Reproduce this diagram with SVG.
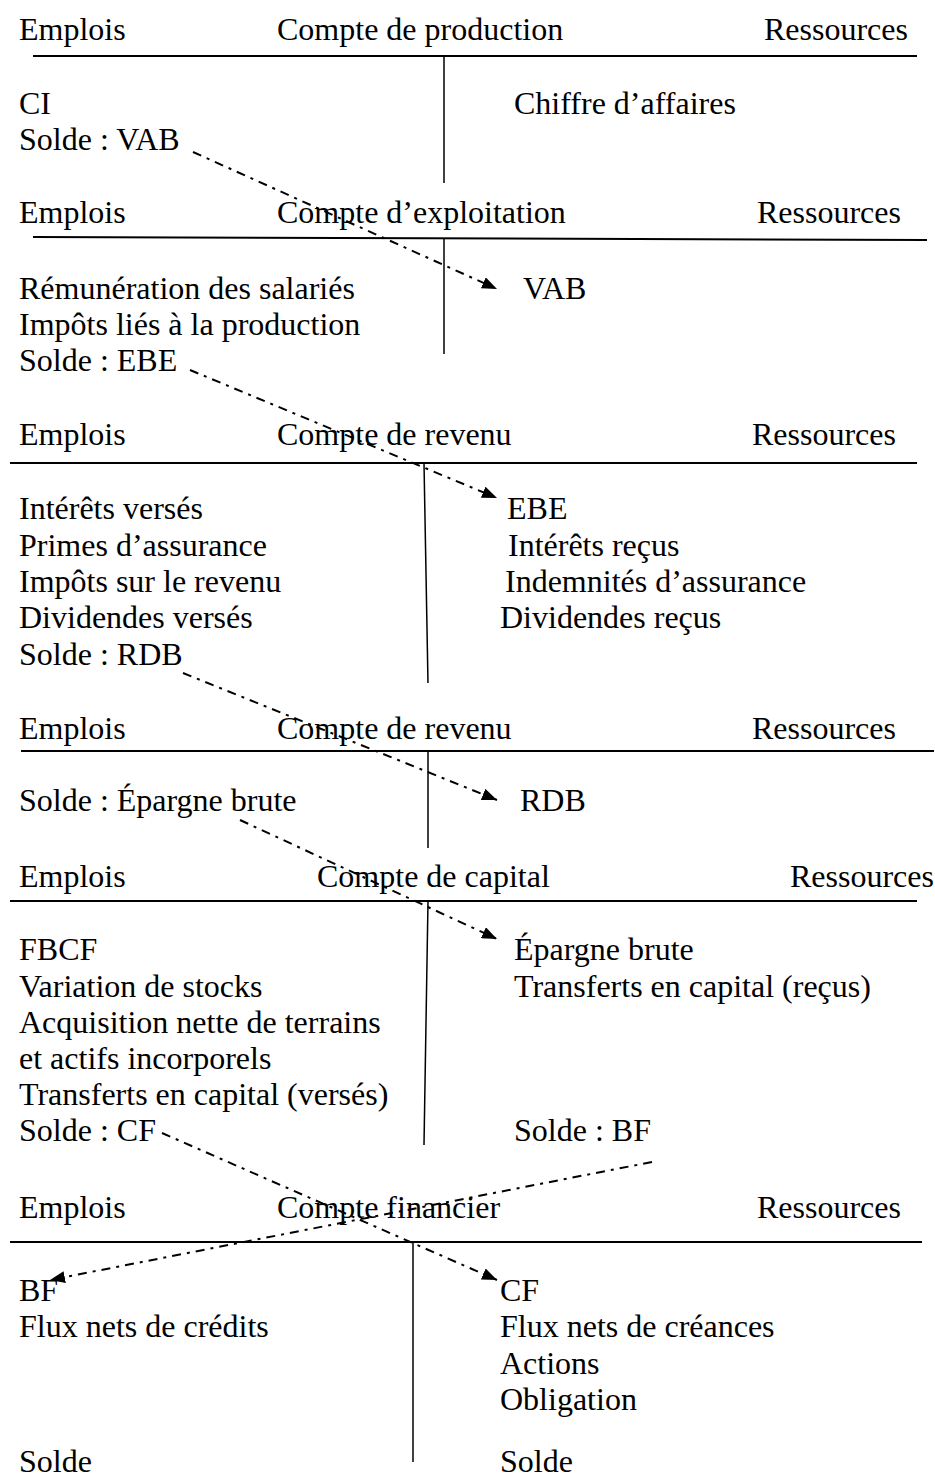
<svg xmlns="http://www.w3.org/2000/svg" width="935" height="1479" viewBox="0 0 935 1479">
<style>
text{font-family:"Liberation Serif","Times New Roman",serif;font-size:32px;fill:#000}
.rule{stroke:#000;stroke-width:2;fill:none}
.vl{stroke:#000;stroke-width:1.5;fill:none}
.flow{stroke:#000;stroke-width:2;fill:none;stroke-dasharray:9 6 3 6;marker-end:url(#ah)}
</style>
<defs>
<marker id="ah" markerUnits="userSpaceOnUse" markerWidth="16" markerHeight="12" refX="15" refY="6" orient="auto">
<path d="M0,0 L15,6 L0,12 z" fill="#000"/>
</marker>
</defs>
<rect width="935" height="1479" fill="#fff"/>
<g id="compte-production">
<text x="19" y="40">Emplois</text>
<text x="277" y="40">Compte de production</text>
<text x="764" y="40">Ressources</text>
<line class="rule" x1="33" y1="56" x2="917" y2="56"/>
<line class="vl" x1="444" y1="56" x2="444" y2="183"/>
<text x="19" y="114">CI</text>
<text x="19" y="150">Solde : VAB</text>
<text x="514" y="114">Chiffre d’affaires</text>
</g>
<g id="compte-exploitation">
<text x="19" y="223">Emplois</text>
<text x="277" y="223">Compte d’exploitation</text>
<text x="757" y="223">Ressources</text>
<line class="rule" x1="33" y1="237" x2="927" y2="240"/>
<line class="vl" x1="444" y1="238" x2="444" y2="354"/>
<text x="19" y="299">Rémunération des salariés</text>
<text x="19" y="335">Impôts liés à la production</text>
<text x="19" y="371">Solde : EBE</text>
<text x="523" y="299">VAB</text>
</g>
<g id="compte-revenu-1">
<text x="19" y="445">Emplois</text>
<text x="277" y="445">Compte de revenu</text>
<text x="752" y="445">Ressources</text>
<line class="rule" x1="10" y1="463" x2="917" y2="463"/>
<line class="vl" x1="424" y1="463" x2="428" y2="683"/>
<text x="19" y="519">Intérêts versés</text>
<text x="19" y="556">Primes d’assurance</text>
<text x="19" y="592">Impôts sur le revenu</text>
<text x="19" y="628">Dividendes versés</text>
<text x="19" y="665">Solde : RDB</text>
<text x="507" y="519">EBE</text>
<text x="508" y="556">Intérêts reçus</text>
<text x="505" y="592">Indemnités d’assurance</text>
<text x="500" y="628">Dividendes reçus</text>
</g>
<g id="compte-revenu-2">
<text x="19" y="739">Emplois</text>
<text x="277" y="739">Compte de revenu</text>
<text x="752" y="739">Ressources</text>
<line class="rule" x1="21" y1="751" x2="934" y2="751"/>
<line class="vl" x1="428" y1="751" x2="428" y2="848"/>
<text x="19" y="811">Solde : Épargne brute</text>
<text x="520" y="811">RDB</text>
</g>
<g id="compte-capital">
<text x="19" y="887">Emplois</text>
<text x="317" y="887">Compte de capital</text>
<text x="790" y="887">Ressources</text>
<line class="rule" x1="10" y1="901" x2="917" y2="901"/>
<line class="vl" x1="428" y1="901" x2="424" y2="1145"/>
<text x="19" y="960">FBCF</text>
<text x="19" y="997">Variation de stocks</text>
<text x="19" y="1033">Acquisition nette de terrains</text>
<text x="19" y="1069">et actifs incorporels</text>
<text x="19" y="1105">Transferts en capital (versés)</text>
<text x="19" y="1141">Solde : CF</text>
<text x="514" y="960">Épargne brute</text>
<text x="514" y="997">Transferts en capital (reçus)</text>
<text x="514" y="1141">Solde : BF</text>
</g>
<g id="compte-financier">
<text x="19" y="1218">Emplois</text>
<text x="277" y="1218">Compte financier</text>
<text x="757" y="1218">Ressources</text>
<line class="rule" x1="10" y1="1242" x2="922" y2="1242"/>
<line class="vl" x1="413" y1="1242" x2="413" y2="1462"/>
<text x="19" y="1301">BF</text>
<text x="19" y="1337">Flux nets de crédits</text>
<text x="19" y="1472">Solde</text>
<text x="500" y="1301">CF</text>
<text x="500" y="1337">Flux nets de créances</text>
<text x="500" y="1374">Actions</text>
<text x="500" y="1410">Obligation</text>
<text x="500" y="1472">Solde</text>
</g>
<g id="connectors">
<line class="flow" x1="193" y1="152" x2="497" y2="289"/>
<line class="flow" x1="190" y1="370" x2="497" y2="498"/>
<line class="flow" x1="183" y1="673" x2="497" y2="800"/>
<line class="flow" x1="240" y1="820" x2="497" y2="939"/>
<line class="flow" x1="162" y1="1133" x2="497" y2="1280"/>
<line class="flow" x1="652" y1="1162" x2="50" y2="1280"/>
</g>
</svg>
